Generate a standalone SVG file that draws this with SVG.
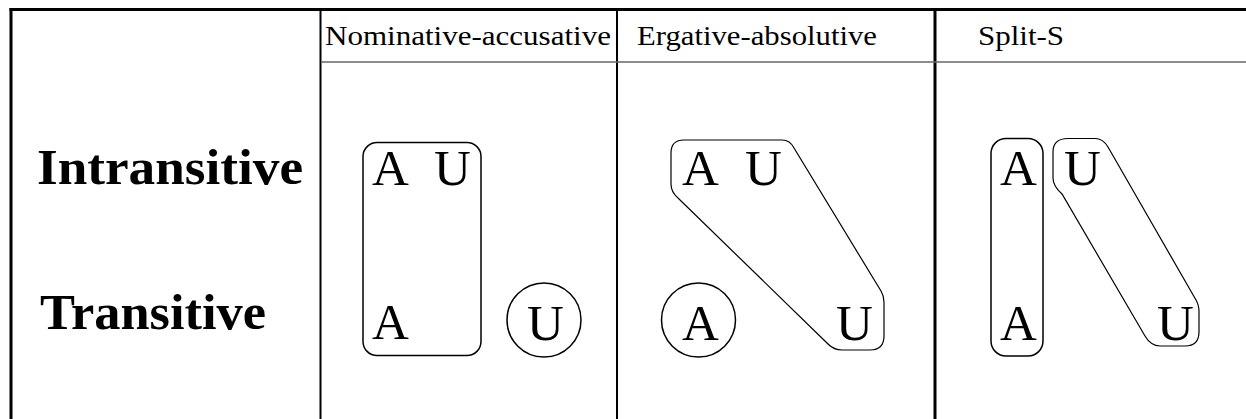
<svg xmlns="http://www.w3.org/2000/svg" width="1246" height="419" viewBox="0 0 1246 419">
  <style>
    .hdr { font-family: 'Liberation Serif', 'Times New Roman', serif; font-size: 28px; font-weight: normal; fill: #000; }
    .row { font-family: 'Liberation Serif', 'Times New Roman', serif; font-size: 50px; font-weight: bold; fill: #000; }
    .ltr { font-family: 'Liberation Serif', 'Times New Roman', serif; font-size: 51px; font-weight: normal; fill: #000; }
    .grp { fill: none; stroke: #000; stroke-width: 1.5; }
    .grpthin { fill: none; stroke: #000; stroke-width: 1.2; }
  </style>
  <rect x="0" y="0" width="1246" height="419" fill="#fff"/>

  <g id="table">
    <line x1="9.5" y1="9.5" x2="1246" y2="9.5" stroke="#000" stroke-width="3"/>
    <line x1="11" y1="8" x2="11" y2="419" stroke="#000" stroke-width="3"/>
    <line x1="320.5" y1="10" x2="320.5" y2="419" stroke="#000" stroke-width="2"/>
    <line x1="617" y1="10" x2="617" y2="419" stroke="#000" stroke-width="2"/>
    <line x1="935" y1="10" x2="935" y2="419" stroke="#000" stroke-width="3"/>
    <line x1="321" y1="62" x2="1246" y2="62" stroke="#666" stroke-width="1.6"/>
  </g>

  <g id="headers">
    <text class="hdr" x="325" y="45" textLength="286" lengthAdjust="spacingAndGlyphs">Nominative-accusative</text>
    <text class="hdr" x="637" y="45" textLength="240" lengthAdjust="spacingAndGlyphs">Ergative-absolutive</text>
    <text class="hdr" x="978" y="45" textLength="86" lengthAdjust="spacingAndGlyphs">Split-S</text>
  </g>

  <g id="row-labels">
    <text class="row" x="37" y="184" textLength="266" lengthAdjust="spacingAndGlyphs">Intransitive</text>
    <text class="row" x="40" y="329" textLength="226" lengthAdjust="spacingAndGlyphs">Transitive</text>
  </g>

  <g id="nom-acc">
    <g id="nom-group-S-A">
      <rect class="grp" x="363" y="142.5" width="118" height="213" rx="14" ry="14"/>
      <text class="ltr" x="372" y="185">A</text>
      <text class="ltr" x="434" y="185">U</text>
      <text class="ltr" x="372" y="339">A</text>
    </g>
    <g id="nom-group-U">
      <circle class="grp" cx="544" cy="320" r="37"/>
      <text class="ltr" x="527" y="340">U</text>
    </g>
  </g>

  <g id="erg-abs">
    <g id="erg-group-S-U">
      <path class="grpthin" d="M684,140 L782,140 Q790,140 794,148 L881,291 Q884,296 884,302 L884,336 Q884,350 870,350 L842,350 Q834,350 828,344 L678,198 Q671,192 671,184 L671,153 Q671,140 684,140 Z"/>
      <text class="ltr" x="682" y="185">A</text>
      <text class="ltr" x="745" y="185">U</text>
      <text class="ltr" x="836" y="340">U</text>
    </g>
    <g id="erg-group-A">
      <circle class="grp" cx="698.5" cy="320" r="37"/>
      <text class="ltr" x="682" y="340">A</text>
    </g>
  </g>

  <g id="split-s">
    <g id="split-group-A">
      <rect class="grp" x="991" y="138.5" width="52" height="217.5" rx="15" ry="15"/>
      <text class="ltr" x="1000" y="185">A</text>
      <text class="ltr" x="1000" y="340">A</text>
    </g>
    <g id="split-group-U">
      <path class="grpthin" d="M1068,138.5 L1095,138.5 Q1103,138.5 1108,147 L1196,300 Q1199,305 1199,312 L1199,332 Q1199,346 1185,346 L1160,346 Q1151,346 1145,336 L1062,194 Q1053,186 1053,178 L1053,152 Q1053,138.5 1068,138.5 Z"/>
      <text class="ltr" x="1064" y="185">U</text>
      <text class="ltr" x="1157" y="340">U</text>
    </g>
  </g>
</svg>
